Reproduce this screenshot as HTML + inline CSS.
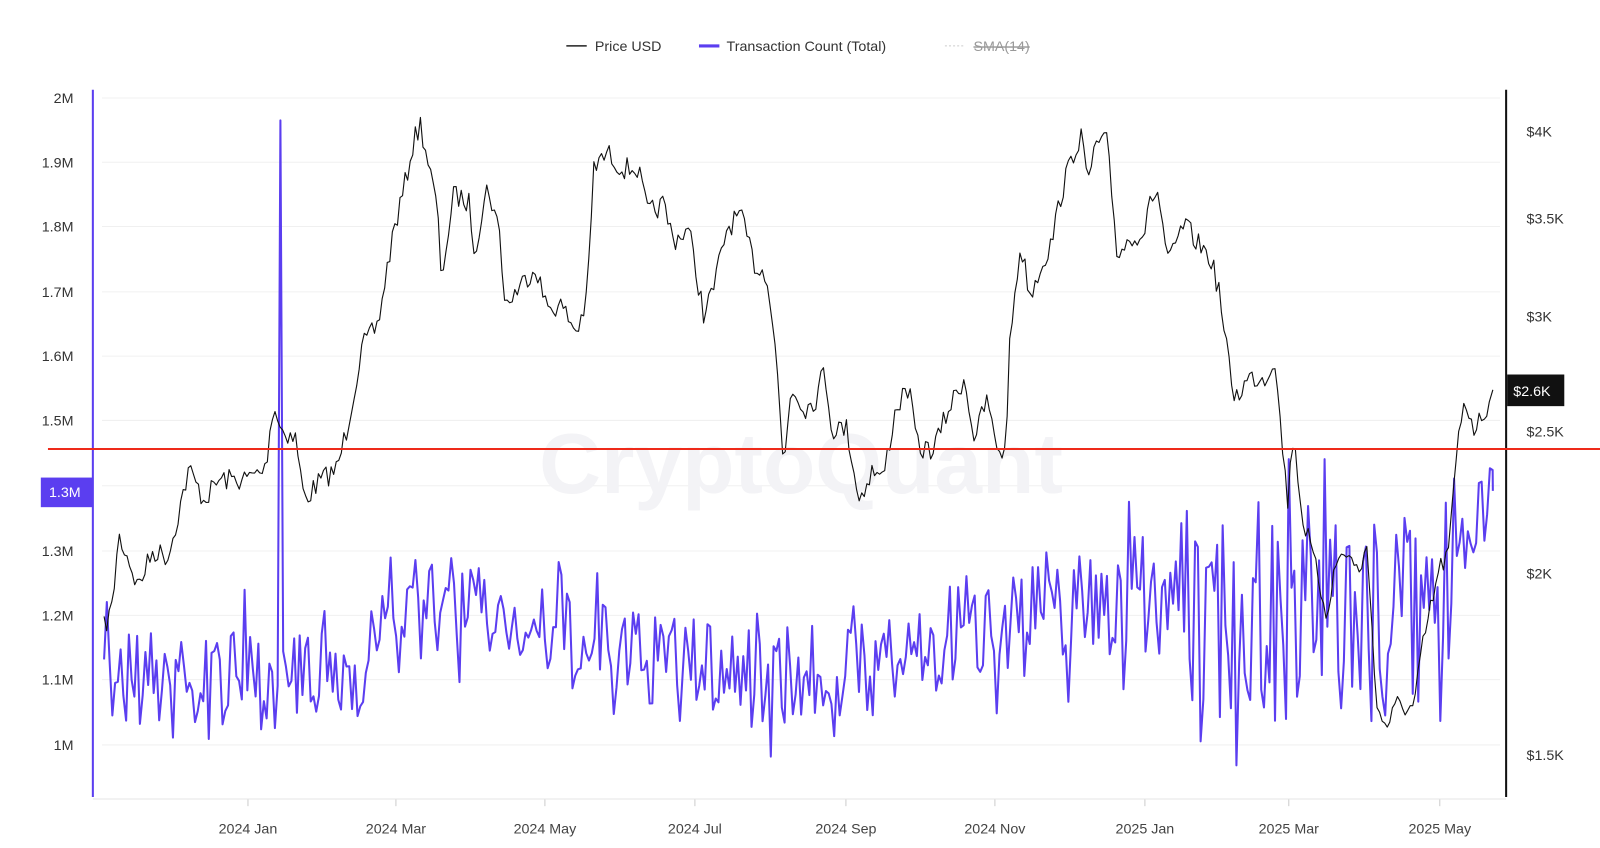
<!DOCTYPE html>
<html><head><meta charset="utf-8"><style>
html,body{margin:0;padding:0;background:#fff;width:1600px;height:848px;overflow:hidden;font-family:"Liberation Sans",sans-serif}
svg text{font-family:"Liberation Sans",sans-serif}
</style></head><body>
<svg id="s" width="1600" height="848" viewBox="0 0 1568 831" preserveAspectRatio="none" xmlns="http://www.w3.org/2000/svg">
<g stroke="#f0f0f0" stroke-width="1">
<line x1="100" x2="1470" y1="96" y2="96"/><line x1="100" x2="1470" y1="159" y2="159"/><line x1="100" x2="1470" y1="222" y2="222"/><line x1="100" x2="1470" y1="286" y2="286"/><line x1="100" x2="1470" y1="349" y2="349"/><line x1="100" x2="1470" y1="412" y2="412"/><line x1="100" x2="1470" y1="476" y2="476"/><line x1="100" x2="1470" y1="540" y2="540"/><line x1="100" x2="1470" y1="603" y2="603"/><line x1="100" x2="1470" y1="666" y2="666"/><line x1="100" x2="1470" y1="730" y2="730"/>
</g>
<text x="785" y="483" font-size="84" fill="#f3f3f6" text-anchor="middle" font-weight="bold">CryptoQuant</text>
<g font-size="14" fill="#333">
<line x1="555" x2="575" y1="45" y2="45" stroke="#222" stroke-width="1.5"/><text x="583" y="50">Price USD</text>
<line x1="685" x2="705" y1="45" y2="45" stroke="#5b3ef0" stroke-width="3"/><text x="712" y="50">Transaction Count (Total)</text>
<line x1="926" x2="946" y1="45" y2="45" stroke="#ccc" stroke-dasharray="2,2"/><text x="954" y="50" fill="#999" text-decoration="line-through">SMA(14)</text>
</g>
<g font-size="14" fill="#333" text-anchor="end">
<text x="72" y="101">2M</text><text x="72" y="164">1.9M</text><text x="72" y="227">1.8M</text><text x="72" y="291">1.7M</text><text x="72" y="354">1.6M</text><text x="72" y="417">1.5M</text><text x="72" y="545">1.3M</text><text x="72" y="608">1.2M</text><text x="72" y="671">1.1M</text><text x="72" y="735">1M</text>
</g>
<g font-size="14" fill="#333">
<text x="1496" y="134">$4K</text><text x="1496" y="219">$3.5K</text><text x="1496" y="315">$3K</text><text x="1496" y="428">$2.5K</text><text x="1496" y="567">$2K</text><text x="1496" y="745">$1.5K</text>
</g>
<g font-size="14" fill="#444" text-anchor="middle">
<text x="243" y="817">2024 Jan</text><text x="388" y="817">2024 Mar</text><text x="534" y="817">2024 May</text><text x="681" y="817">2024 Jul</text><text x="829" y="817">2024 Sep</text><text x="975" y="817">2024 Nov</text><text x="1122" y="817">2025 Jan</text><text x="1263" y="817">2025 Mar</text><text x="1411" y="817">2025 May</text>
</g>
<g stroke="#ccc"><line x1="243" x2="243" y1="783" y2="790"/><line x1="388" x2="388" y1="783" y2="790"/><line x1="534" x2="534" y1="783" y2="790"/><line x1="681" x2="681" y1="783" y2="790"/><line x1="829" x2="829" y1="783" y2="790"/><line x1="975" x2="975" y1="783" y2="790"/><line x1="1122" x2="1122" y1="783" y2="790"/><line x1="1263" x2="1263" y1="783" y2="790"/><line x1="1411" x2="1411" y1="783" y2="790"/></g>
<line x1="91" x2="91" y1="88" y2="781" stroke="#5b3ef0" stroke-width="2"/>
<line x1="1476" x2="1476" y1="88" y2="781" stroke="#111" stroke-width="2"/>
<line x1="91" x2="1476" y1="783" y2="783" stroke="#e5e5e5"/>
<polyline id="tx" fill="none" stroke="#5b3ef0" stroke-width="2" stroke-linejoin="round"/>
<polyline id="pr" fill="none" stroke="#111" stroke-width="1.1" stroke-linejoin="round"/>
<line x1="47" x2="1568" y1="440" y2="440" stroke="#ee2a1a" stroke-width="2"/>
<rect x="40" y="468" width="51" height="29" fill="#5b3ef0"/>
<text x="48" y="487" font-size="14" fill="#fff">1.3M</text>
<rect x="1477" y="367" width="56" height="31" fill="#111"/>
<text x="1483" y="388" font-size="14" fill="#fff">$2.6K</text>
</svg>
<script>
var seed=7;function r(){seed=(seed*16807)%2147483647;return seed/2147483647;}
var pk=[[102,615],[110,595],[116,525],[125,545],[135,575],[150,540],[165,545],[185,460],[200,490],[215,470],[240,470],[260,460],[268,395],[275,420],[290,430],[298,490],[315,470],[330,460],[340,420],[355,340],[370,320],[385,230],[395,190],[405,140],[412,122],[420,160],[430,215],[432,275],[445,190],[460,200],[465,245],[478,182],[490,230],[495,300],[510,280],[525,260],[535,300],[550,300],[565,325],[575,295],[582,165],[595,150],[610,165],[625,165],[635,210],[650,200],[660,235],[675,225],[690,310],[700,280],[712,225],[725,210],[740,260],[752,270],[760,340],[768,460],[775,380],[790,400],[800,390],[808,360],[815,420],[830,420],[842,490],[855,460],[865,470],[878,400],[890,380],[900,440],[915,440],[930,400],[945,370],[955,430],[968,390],[975,435],[985,445],[990,330],[1000,240],[1010,290],[1020,260],[1030,240],[1040,190],[1052,150],[1060,130],[1065,180],[1075,140],[1085,140],[1095,250],[1110,230],[1120,230],[1130,190],[1135,190],[1145,260],[1160,220],[1175,240],[1185,250],[1195,285],[1200,330],[1210,390],[1225,370],[1240,370],[1250,350],[1255,420],[1262,490],[1268,420],[1275,500],[1290,560],[1300,600],[1310,550],[1320,540],[1330,560],[1340,540],[1350,700],[1360,710],[1370,690],[1385,695],[1395,630],[1410,560],[1420,540],[1428,440],[1435,390],[1445,420],[1455,405],[1463,382]];
function interp(a,x){for(var i=0;i<a.length-1;i++){if(x<=a[i+1][0]){var t=(x-a[i][0])/(a[i+1][0]-a[i][0]);return a[i][1]+t*(a[i+1][1]-a[i][1]);}}return a[a.length-1][1];}
var p=[];for(var x=102;x<=1463;x+=2.5){var y=interp(pk,x)+(r()-0.5)*22;p.push(x.toFixed(1)+","+y.toFixed(1));}
p[p.length-1]="1463,382";
document.getElementById('pr').setAttribute('points',p.join(' '));
var tb=[[102,665,45],[260,665,50],[290,670,45],[350,660,45],[380,590,45],[480,600,45],[580,640,45],[760,660,50],[850,660,45],[990,600,55],[1150,580,60],[1170,600,110],[1420,600,110],[1425,510,60],[1463,480,40]];
function ib(x,k){for(var i=0;i<tb.length-1;i++){if(x<=tb[i+1][0]){var t=(x-tb[i][0])/(tb[i+1][0]-tb[i][0]);return tb[i][k]+t*(tb[i+1][k]-tb[i][k]);}}return tb[tb.length-1][k];}
var q=[];for(var x=102;x<=1463;x+=2.7){var b=ib(x,1),a=ib(x,2);var n=(r()-0.5)*2;if(r()<0.12)n*=1.8;var y=b+n*a;y=Math.max(450,Math.min(750,y));if(Math.abs(x-275)<1.5)y=118;q.push(x.toFixed(1)+","+y.toFixed(1));}
q.push("1463,481");
document.getElementById('tx').setAttribute('points',q.join(' '));
</script>
</body></html>
